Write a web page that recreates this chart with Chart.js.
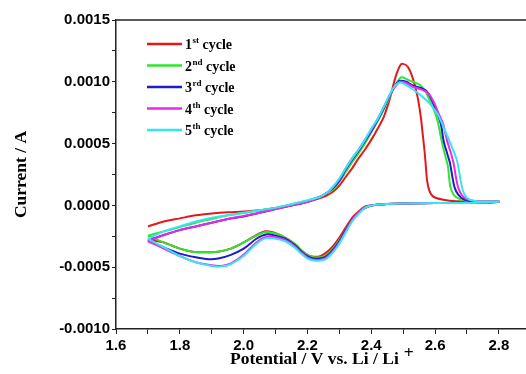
<!DOCTYPE html>
<html><head><meta charset="utf-8">
<script src="https://cdn.jsdelivr.net/npm/chart.js@4.4.0/dist/chart.umd.min.js"></script>
<style>html,body{margin:0;padding:0;background:#fff;}canvas{display:block}</style>
</head><body>
<canvas id="c" width="526" height="374"></canvas>
<script>
// ---- data (potential in V, current in A) ----
const cycle1Potential = [1.70,1.75,1.80,1.85,1.90,1.95,2.00,2.05,2.10,2.15,2.20,2.24,2.26,2.28,2.30,2.32,2.34,2.36,2.38,2.40,2.42,2.44,2.46,2.475,2.49,2.50,2.515,2.53,2.545,2.555,2.562,2.567,2.571,2.575,2.582,2.595,2.64,2.72,2.80,
  2.70,2.60,2.50,2.44,2.40,2.38,2.36,2.34,2.32,2.30,2.28,2.26,2.24,2.22,2.20,2.18,2.16,2.13,2.10,2.07,2.04,2.00,1.96,1.92,1.88,1.84,1.80,1.75,1.71];
const cycle1Current = [-0.00017,-0.00013,-0.000105,-0.00008,-0.000065,-0.000055,-0.00005,-0.00004,-0.00002,0.0,0.00003,0.00006,0.00008,0.00011,0.00016,0.00023,0.0003,0.00038,0.00045,0.00053,0.00062,0.00072,0.00088,0.00103,0.00113,0.001145,0.00112,0.00103,0.00088,0.00072,0.00056,0.00044,0.00032,0.0002,0.00012,0.00007,0.00004,0.00003,0.00003,
  0.00002,0.00002,0.000015,0.00001,0.0,-0.00001,-0.00005,-0.0001,-0.00018,-0.00026,-0.00033,-0.00038,-0.00041,-0.000415,-0.0004,-0.00036,-0.00031,-0.00026,-0.000225,-0.00021,-0.00024,-0.0003,-0.00035,-0.000375,-0.00038,-0.000375,-0.00035,-0.0003,-0.00028];

const cycle2Potential = [1.70,1.75,1.80,1.85,1.90,1.95,2.00,2.05,2.10,2.15,2.20,2.24,2.26,2.28,2.30,2.32,2.34,2.36,2.38,2.40,2.42,2.44,2.46,2.475,2.49,2.50,2.52,2.54,2.555,2.57,2.585,2.60,2.61,2.62,2.63,2.64,2.648,2.66,2.68,2.72,2.80,
  2.70,2.60,2.50,2.44,2.40,2.38,2.36,2.34,2.32,2.30,2.28,2.26,2.24,2.22,2.20,2.18,2.16,2.13,2.10,2.07,2.04,2.00,1.96,1.92,1.88,1.84,1.80,1.75,1.70];
const cycle2Current = [-0.000245,-0.00021,-0.000175,-0.00014,-0.00011,-0.00008,-0.000062,-0.00004,-0.00002,0.00001,0.00004,0.00007,0.0001,0.00013,0.00019,0.00027,0.00035,0.00042,0.0005,0.00059,0.00068,0.00078,0.00089,0.00097,0.00103,0.001035,0.00101,0.00099,0.00097,0.00092,0.00084,0.00075,0.00066,0.00053,0.00042,0.00032,0.00015,0.00008,0.00005,0.00003,0.00003,
  0.00002,0.00002,0.000015,0.00001,0.0,-0.00002,-0.00006,-0.00012,-0.0002,-0.00028,-0.00035,-0.0004,-0.00042,-0.00042,-0.0004,-0.00036,-0.00031,-0.00026,-0.000228,-0.000215,-0.000245,-0.0003,-0.00035,-0.000375,-0.00038,-0.000375,-0.00035,-0.0003,-0.000245];

const cycle3Potential = [1.70,1.75,1.80,1.85,1.90,1.95,2.00,2.05,2.10,2.15,2.20,2.24,2.26,2.28,2.30,2.32,2.34,2.36,2.38,2.40,2.42,2.44,2.46,2.475,2.49,2.51,2.53,2.555,2.575,2.59,2.605,2.618,2.627,2.638,2.647,2.655,2.662,2.672,2.69,2.73,2.80,
  2.70,2.60,2.50,2.44,2.40,2.38,2.36,2.34,2.32,2.30,2.28,2.26,2.24,2.22,2.20,2.18,2.16,2.13,2.10,2.07,2.04,2.00,1.96,1.92,1.89,1.85,1.80,1.75,1.70];
const cycle3Current = [-0.000285,-0.00024,-0.0002,-0.00017,-0.00014,-0.00011,-0.00009,-0.00006,-0.00003,0.0,0.00003,0.00007,0.0001,0.00014,0.0002,0.00029,0.00037,0.00044,0.00052,0.0006,0.00069,0.00079,0.0009,0.00097,0.001008,0.001,0.00097,0.00095,0.00092,0.00085,0.00076,0.00066,0.00052,0.00042,0.00034,0.00022,0.00014,0.00009,0.00005,0.00003,0.00003,
  0.00002,0.00002,0.000015,0.00001,0.0,-0.00002,-0.00006,-0.00012,-0.0002,-0.00029,-0.00036,-0.00041,-0.00043,-0.00043,-0.00041,-0.00037,-0.00032,-0.00027,-0.000245,-0.000235,-0.00027,-0.00035,-0.0004,-0.00043,-0.000435,-0.00042,-0.00039,-0.00034,-0.000285];

const cycle4Potential = [1.70,1.75,1.80,1.85,1.90,1.95,2.00,2.05,2.10,2.15,2.20,2.24,2.26,2.28,2.30,2.32,2.34,2.36,2.38,2.40,2.42,2.44,2.46,2.475,2.49,2.51,2.53,2.555,2.578,2.595,2.61,2.625,2.638,2.65,2.658,2.666,2.673,2.685,2.70,2.74,2.80,
  2.70,2.60,2.50,2.44,2.40,2.38,2.36,2.34,2.32,2.30,2.28,2.26,2.24,2.22,2.20,2.18,2.16,2.13,2.10,2.07,2.04,2.00,1.96,1.93,1.90,1.85,1.80,1.75,1.70];
const cycle4Current = [-0.00029,-0.00024,-0.0002,-0.00017,-0.00014,-0.00011,-0.000085,-0.00006,-0.00003,0.0,0.00003,0.00007,0.0001,0.00015,0.00021,0.0003,0.00038,0.00045,0.00053,0.00061,0.0007,0.0008,0.0009,0.00096,0.001,0.00099,0.00096,0.00094,0.00091,0.00084,0.00075,0.00066,0.00052,0.00042,0.00034,0.00022,0.00014,0.00008,0.00005,0.00003,0.00003,
  0.00002,0.00002,0.000015,0.00001,0.0,-0.00002,-0.00006,-0.00012,-0.00021,-0.0003,-0.00037,-0.00042,-0.00044,-0.00044,-0.00042,-0.00038,-0.00033,-0.00028,-0.000255,-0.000255,-0.0003,-0.0004,-0.00047,-0.00049,-0.000485,-0.00046,-0.00041,-0.00035,-0.00029];

const cycle5Potential = [1.70,1.75,1.80,1.85,1.90,1.95,2.00,2.05,2.10,2.15,2.20,2.24,2.26,2.28,2.30,2.32,2.34,2.36,2.38,2.40,2.42,2.44,2.46,2.475,2.49,2.505,2.53,2.56,2.585,2.61,2.632,2.65,2.669,2.677,2.684,2.692,2.705,2.74,2.80,
  2.70,2.60,2.50,2.44,2.40,2.38,2.36,2.34,2.32,2.30,2.28,2.26,2.24,2.22,2.20,2.18,2.16,2.13,2.10,2.07,2.04,2.00,1.96,1.93,1.90,1.85,1.80,1.75,1.70];
const cycle5Current = [-0.00027,-0.00021,-0.00017,-0.00013,-0.0001,-0.00008,-0.00006,-0.00004,-0.00002,0.00001,0.00004,0.00007,0.0001,0.00015,0.00022,0.0003,0.00038,0.00045,0.00053,0.00062,0.0007,0.0008,0.00091,0.00097,0.000995,0.00098,0.00094,0.00088,0.00082,0.00073,0.0006,0.00049,0.00036,0.00025,0.00015,0.00009,0.00005,0.00003,0.00003,
  0.00002,0.00002,0.000015,0.00001,0.0,-0.00002,-0.00007,-0.00013,-0.00022,-0.00031,-0.00038,-0.00043,-0.000445,-0.000445,-0.00043,-0.00039,-0.00034,-0.00029,-0.00027,-0.000265,-0.00031,-0.00041,-0.000475,-0.000495,-0.00049,-0.00046,-0.00041,-0.00034,-0.00027];

const cycleNumbers = ['1','2','3','4','5'];
const cycleSuffixes = ['st','nd','rd','th','th'];
const xTickLabels = ['1.6','1.8','2.0','2.2','2.4','2.6','2.8'];
const yTickLabels = ['-0.0010','-0.0005','0.0000','0.0005','0.0010','0.0015'];
const xTitleText = 'Potential / V vs. Li / Li';
const yTitleText = 'Current / A';

// ---- styles ----
const colors = ['#e31a1c','#2ee62e','#1c1cc8','#e82ae8','#36e4f2'];
const serif = '"Liberation Serif", "Times New Roman", serif';
const sans = '"Liberation Sans", Arial, sans-serif';

const potentials = [cycle1Potential,cycle2Potential,cycle3Potential,cycle4Potential,cycle5Potential];
const currents = [cycle1Current,cycle2Current,cycle3Current,cycle4Current,cycle5Current];

const datasets = potentials.map((pv, i) => ({
  label: cycleNumbers[i] + cycleSuffixes[i] + ' cycle',
  data: pv.map((v, k) => ({x: v, y: currents[i][k]})),
  showLine: true,
  borderColor: colors[i],
  backgroundColor: colors[i],
  borderWidth: 2,
  pointRadius: 0,
  tension: 0.3,
  fill: false,
  order: 4 - i
}));

const extras = {
  id: 'extras',
  afterDraw(chart) {
    const ctx = chart.ctx, a = chart.chartArea;
    ctx.save();
    // top frame line
    ctx.strokeStyle = '#222'; ctx.lineWidth = 1.5;
    ctx.beginPath(); ctx.moveTo(a.left, a.top); ctx.lineTo(a.right, a.top); ctx.stroke();
    // legend
    ctx.textBaseline = 'alphabetic'; ctx.textAlign = 'left'; ctx.fillStyle = '#000';
    chart.data.datasets.forEach((ds, i) => {
      const y = a.top + 24 + i * 21.5;
      ctx.strokeStyle = ds.borderColor; ctx.lineWidth = 2.5;
      ctx.beginPath(); ctx.moveTo(a.left + 31, y); ctx.lineTo(a.left + 66, y); ctx.stroke();
      let x = a.left + 69;
      ctx.font = 'bold 14px ' + serif;
      ctx.fillText(cycleNumbers[i], x, y + 5);
      x += ctx.measureText(cycleNumbers[i]).width + 0.5;
      ctx.font = 'bold 9px ' + serif;
      ctx.fillText(cycleSuffixes[i], x, y - 1);
      x += ctx.measureText(cycleSuffixes[i]).width;
      ctx.font = 'bold 14px ' + serif;
      ctx.fillText(' cycle', x, y + 5);
    });
    // superscript + on x title
    const xs = chart.scales.x;
    ctx.font = 'bold 17.5px ' + serif;
    const full = ctx.measureText(chart.options.scales.x.title.text).width;
    const base = ctx.measureText(xTitleText).width;
    const cx = (xs.left + xs.right) / 2;
    const end = cx - full / 2 + base;
    ctx.fillText('+', end + 5, xs.bottom - 16.5);
    ctx.restore();
  }
};

new Chart(document.getElementById('c'), {
  type: 'scatter',
  data: {datasets},
  plugins: [extras],
  options: {
    responsive: false, animation: false, devicePixelRatio: 1,
    layout: {padding: {left: 0, right: 0, top: 20, bottom: 0}},
    plugins: {legend: {display: false}, tooltip: {enabled: false}},
    scales: {
      x: {
        type: 'linear', min: 1.6, max: 2.885,
        afterFit(s) { s.height = 45; },
        border: {display: true, color: '#222', width: 1.5},
        grid: {drawOnChartArea: false, drawTicks: true, tickLength: 5, color: '#222', lineWidth: 1},
        ticks: {
          stepSize: 0.1, includeBounds: false, autoSkip: false, maxRotation: 0, padding: 3, color: '#000',
          font: {family: sans, size: 15, weight: 'bold'},
          callback: (v) => { const s = v.toFixed(1); return xTickLabels.includes(s) ? s : ''; }
        },
        title: {display: true, text: xTitleText + '   ', color: '#000',
          font: {family: serif, size: 17.5, weight: 'bold'}, padding: {top: 0, bottom: 4}}
      },
      y: {
        type: 'linear', min: -0.001, max: 0.0015,
        afterFit(s) { s.width = 116; },
        border: {display: true, color: '#222', width: 1.5},
        grid: {drawOnChartArea: false, drawTicks: true, tickLength: 4, color: '#222', lineWidth: 1},
        ticks: {
          stepSize: 0.00025, autoSkip: false, padding: 2, color: '#000',
          font: {family: sans, size: 15, weight: 'bold'},
          callback: (v) => { const s = (Math.abs(v) < 1e-12 ? 0 : v).toFixed(4); return yTickLabels.includes(s) ? s : ''; }
        },
        title: {display: true, text: yTitleText, color: '#000',
          font: {family: serif, size: 17.5, weight: 'bold'}, padding: {top: 11, bottom: 0}}
      }
    }
  }
});
</script>
</body></html>
